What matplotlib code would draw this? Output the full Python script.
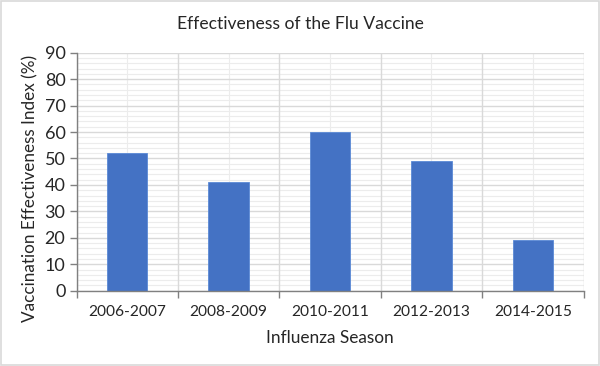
import numpy as np
import matplotlib.pyplot as plt
from matplotlib.patches import Rectangle

# data
seasons = ["2006-2007", "2008-2009", "2010-2011", "2012-2013", "2014-2015"]
effectiveness = [52, 41, 60, 49, 19]
y_ticks = [0, 10, 20, 30, 40, 50, 60, 70, 80, 90]

plt.rcParams["font.family"] = ["Lato", "DejaVu Sans"]

fig = plt.figure(figsize=(6, 3.66), dpi=100)
ax = fig.add_axes([76.5 / 600, 1 - 290.7 / 366, (583.6 - 76.5) / 600, (290.7 - 52.7) / 366])

n = len(seasons)
x = np.arange(n)

# gridlines: minor first, then major
for v in np.arange(0, 91, 2):
    if v % 10:
        ax.axhline(v, color="#ececec", linewidth=0.8, zorder=0)
for v in y_ticks:
    ax.axhline(v, color="#d9d9d9", linewidth=1.0, zorder=0.5)
for c in x:
    ax.axvline(c, color="#ececec", linewidth=0.8, zorder=0)
for b in np.arange(-0.5, n, 1):
    ax.axvline(b, color="#d9d9d9", linewidth=1.0, zorder=0.5)

ax.bar(x, effectiveness, width=0.4, color="#4472c4", edgecolor="#5b8ad6", linewidth=0.6, zorder=2)

ax.set_xlim(-0.5, n - 0.5)
ax.set_ylim(0, 90)
ax.set_yticks(y_ticks)
ax.set_xticks(x)
ax.set_xticklabels(seasons, fontsize=11.2, color="#262626")
ax.tick_params(axis="y", labelsize=13, colors="#262626", length=5, color="#808080", width=1, pad=3)
ax.tick_params(axis="x", length=0, pad=10)
# category boundary ticks
ax.set_xticks(np.arange(-0.5, n, 1), minor=True)
ax.tick_params(axis="x", which="minor", length=5, color="#808080", width=1)

for s in ["top", "right"]:
    ax.spines[s].set_visible(False)
for s in ["left", "bottom"]:
    ax.spines[s].set_color("#808080")
    ax.spines[s].set_linewidth(1)
    ax.spines[s].set_zorder(3)

ax.set_xlabel("Influenza Season", fontsize=12.4, color="#262626", labelpad=8)
fig.text(30 / 600, 1 - 188 / 366, "Vaccination Effectiveness Index (%)", rotation=90,
         ha="center", va="center", fontsize=12.3, color="#262626")
fig.text(0.5, 1 - 24 / 366, "Effectiveness of the Flu Vaccine", ha="center", va="center",
         fontsize=12.6, color="#262626")

# light frame around the chart
fig.patches.append(Rectangle((0.002, 0.003), 0.996, 0.994, transform=fig.transFigure,
                             fill=False, edgecolor="#d9d9d9", linewidth=1.2))

fig.savefig("out.png", dpi=100, facecolor="white")
